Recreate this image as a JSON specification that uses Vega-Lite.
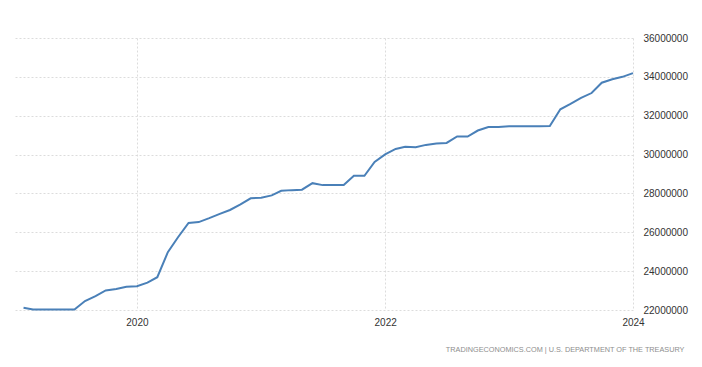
{
  "$schema": "https://vega.github.io/schema/vega-lite/v6.json",
  "width": 620,
  "height": 272,
  "autosize": {"type": "none"},
  "padding": {"left": 13, "top": 38, "right": 69, "bottom": 57},
  "background": "white",
  "config": {
    "view": {"stroke": null},
    "font": "Liberation Sans",
    "axis": {"labelFont": "Liberation Sans", "labelFontSize": 10, "labelColor": "#333333", "gridColor": "#dcdcdc", "gridDash": [2, 2], "gridWidth": 1, "domain": false, "ticks": false}
  },
  "title": {
    "text": "TRADINGECONOMICS.COM  |  U.S. DEPARTMENT OF THE TREASURY",
    "orient": "bottom",
    "anchor": "end",
    "frame": "bounds",
    "fontSize": 7.3,
    "fontWeight": "normal",
    "font": "Liberation Sans",
    "color": "#8e8e8e",
    "offset": 19,
    "dx": -3
  },
  "data": {
    "values": [
      {"date": "2019-02-01", "debt": 22115000},
      {"date": "2019-03-01", "debt": 22028000},
      {"date": "2019-04-01", "debt": 22027000},
      {"date": "2019-05-01", "debt": 22024000},
      {"date": "2019-06-01", "debt": 22023000},
      {"date": "2019-07-01", "debt": 22023000},
      {"date": "2019-08-01", "debt": 22464000},
      {"date": "2019-09-01", "debt": 22719000},
      {"date": "2019-10-01", "debt": 23008000},
      {"date": "2019-11-01", "debt": 23076000},
      {"date": "2019-12-01", "debt": 23201000},
      {"date": "2020-01-01", "debt": 23223000},
      {"date": "2020-02-01", "debt": 23410000},
      {"date": "2020-03-01", "debt": 23686000},
      {"date": "2020-04-01", "debt": 24974000},
      {"date": "2020-05-01", "debt": 25746000},
      {"date": "2020-06-01", "debt": 26477000},
      {"date": "2020-07-01", "debt": 26525000},
      {"date": "2020-08-01", "debt": 26728000},
      {"date": "2020-09-01", "debt": 26945000},
      {"date": "2020-10-01", "debt": 27148000},
      {"date": "2020-11-01", "debt": 27438000},
      {"date": "2020-12-01", "debt": 27748000},
      {"date": "2021-01-01", "debt": 27782000},
      {"date": "2021-02-01", "debt": 27900000},
      {"date": "2021-03-01", "debt": 28133000},
      {"date": "2021-04-01", "debt": 28170000},
      {"date": "2021-05-01", "debt": 28193000},
      {"date": "2021-06-01", "debt": 28529000},
      {"date": "2021-07-01", "debt": 28428000},
      {"date": "2021-08-01", "debt": 28428000},
      {"date": "2021-09-01", "debt": 28429000},
      {"date": "2021-10-01", "debt": 28908000},
      {"date": "2021-11-01", "debt": 28909000},
      {"date": "2021-12-01", "debt": 29617000},
      {"date": "2022-01-01", "debt": 30012000},
      {"date": "2022-02-01", "debt": 30290000},
      {"date": "2022-03-01", "debt": 30401000},
      {"date": "2022-04-01", "debt": 30372000},
      {"date": "2022-05-01", "debt": 30498000},
      {"date": "2022-06-01", "debt": 30568000},
      {"date": "2022-07-01", "debt": 30599000},
      {"date": "2022-08-01", "debt": 30932000},
      {"date": "2022-09-01", "debt": 30929000},
      {"date": "2022-10-01", "debt": 31238000},
      {"date": "2022-11-01", "debt": 31414000},
      {"date": "2022-12-01", "debt": 31419000},
      {"date": "2023-01-01", "debt": 31455000},
      {"date": "2023-02-01", "debt": 31459000},
      {"date": "2023-03-01", "debt": 31458000},
      {"date": "2023-04-01", "debt": 31458000},
      {"date": "2023-05-01", "debt": 31464000},
      {"date": "2023-06-01", "debt": 32332000},
      {"date": "2023-07-01", "debt": 32608000},
      {"date": "2023-08-01", "debt": 32914000},
      {"date": "2023-09-01", "debt": 33167000},
      {"date": "2023-10-01", "debt": 33700000},
      {"date": "2023-11-01", "debt": 33879000},
      {"date": "2023-12-01", "debt": 34001000},
      {"date": "2024-01-01", "debt": 34190000}
    ]
  },
  "mark": {"type": "line", "color": "#4a80b8", "strokeWidth": 2, "clip": false},
  "encoding": {
    "x": {
      "field": "date",
      "type": "temporal",
      "scale": {"domain": [{"year": 2019, "month": 1, "date": 1}, {"year": 2024, "month": 1, "date": 1}]},
      "axis": {
        "title": null,
        "values": [{"year": 2020, "month": 1, "date": 1}, {"year": 2022, "month": 1, "date": 1}, {"year": 2024, "month": 1, "date": 1}],
        "format": "%Y",
        "labelPadding": 7,
        "labelFlush": false
      }
    },
    "y": {
      "field": "debt",
      "type": "quantitative",
      "scale": {"domain": [22000000, 36000000], "nice": false, "zero": false},
      "axis": {
        "title": null,
        "orient": "right",
        "values": [22000000, 24000000, 26000000, 28000000, 30000000, 32000000, 34000000, 36000000],
        "format": "d",
        "labelPadding": 10
      }
    }
  }
}
